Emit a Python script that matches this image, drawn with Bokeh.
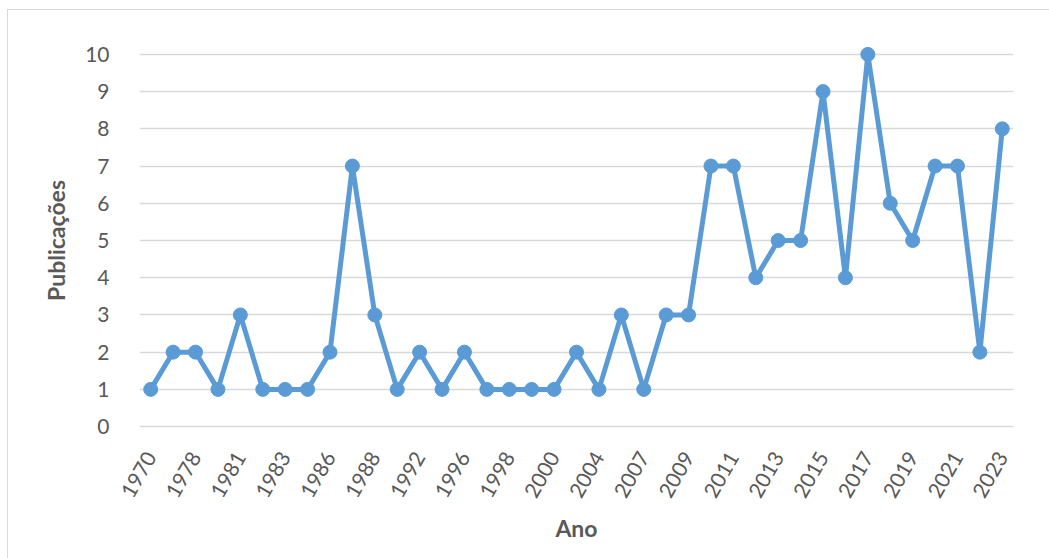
from bokeh.plotting import figure
from bokeh.models import Range1d, FixedTicker
from bokeh.embed import file_html
from bokeh.resources import INLINE

years = ["1970", "1977", "1978", "1980", "1981", "1982", "1983", "1985", "1986", "1987",
         "1988", "1990", "1992", "1994", "1996", "1997", "1998", "1999", "2000", "2002",
         "2004", "2006", "2007", "2008", "2009", "2010", "2011", "2012", "2013", "2014",
         "2015", "2016", "2017", "2018", "2019", "2020", "2021", "2022", "2023"]
publicacoes = [1, 2, 2, 1, 3, 1, 1, 1, 2, 7,
               3, 1, 2, 1, 2, 1, 1, 1, 1, 2,
               1, 3, 1, 3, 3, 7, 7, 4, 5, 5,
               9, 4, 10, 6, 5, 7, 7, 2, 8]
y_ticks = list(range(0, 11))

FONT = "Lato"
TXT = "#595959"
BLUE = "#5B9BD5"

xi = list(range(len(years)))

p = figure(width=1042, height=549, output_backend="svg", toolbar_location=None,
           x_range=Range1d(-0.5, len(years) - 0.5),
           y_range=Range1d(-0.4, 10.4),
           min_border_left=131, min_border_right=37, min_border_top=29, min_border_bottom=118,
           margin=(9, 0, 0, 7),
           styles={"border-top": "1px solid #d9d9d9", "border-left": "1px solid #d9d9d9"})
p.outline_line_color = None
p.background_fill_color = "white"
p.border_fill_color = "white"

p.line(xi, publicacoes, line_color=BLUE, line_width=5, line_join="round")
p.scatter(xi, publicacoes, size=14, fill_color=BLUE, line_color=BLUE)

# grid
p.xgrid.grid_line_color = None
p.ygrid.grid_line_color = "#d9d9d9"
p.ygrid.grid_line_width = 1.5
p.yaxis.ticker = y_ticks

# axes
for ax in (p.xaxis, p.yaxis):
    ax.axis_line_color = None
    ax.major_tick_line_color = None
    ax.minor_tick_line_color = None
    ax.major_label_text_font = FONT
    ax.major_label_text_font_size = "21px"
    ax.major_label_text_color = TXT
    ax.axis_label_text_font = FONT
    ax.axis_label_text_font_size = "23px"
    ax.axis_label_text_font_style = "bold"
    ax.axis_label_text_color = TXT

p.yaxis.axis_label = "Publicações"
p.yaxis.major_label_standoff = 24
p.yaxis.axis_label_standoff = 12

even = [i for i in xi if i % 2 == 0]
p.xaxis.ticker = FixedTicker(ticks=even)
p.xaxis.major_label_overrides = {i: years[i] for i in even}
p.xaxis.axis_label = "Ano"
p.xaxis.major_label_orientation = 1.05
p.xaxis.major_label_standoff = 6
p.xaxis.axis_label_standoff = 8

open("out.html", "w").write(file_html(p, INLINE))
